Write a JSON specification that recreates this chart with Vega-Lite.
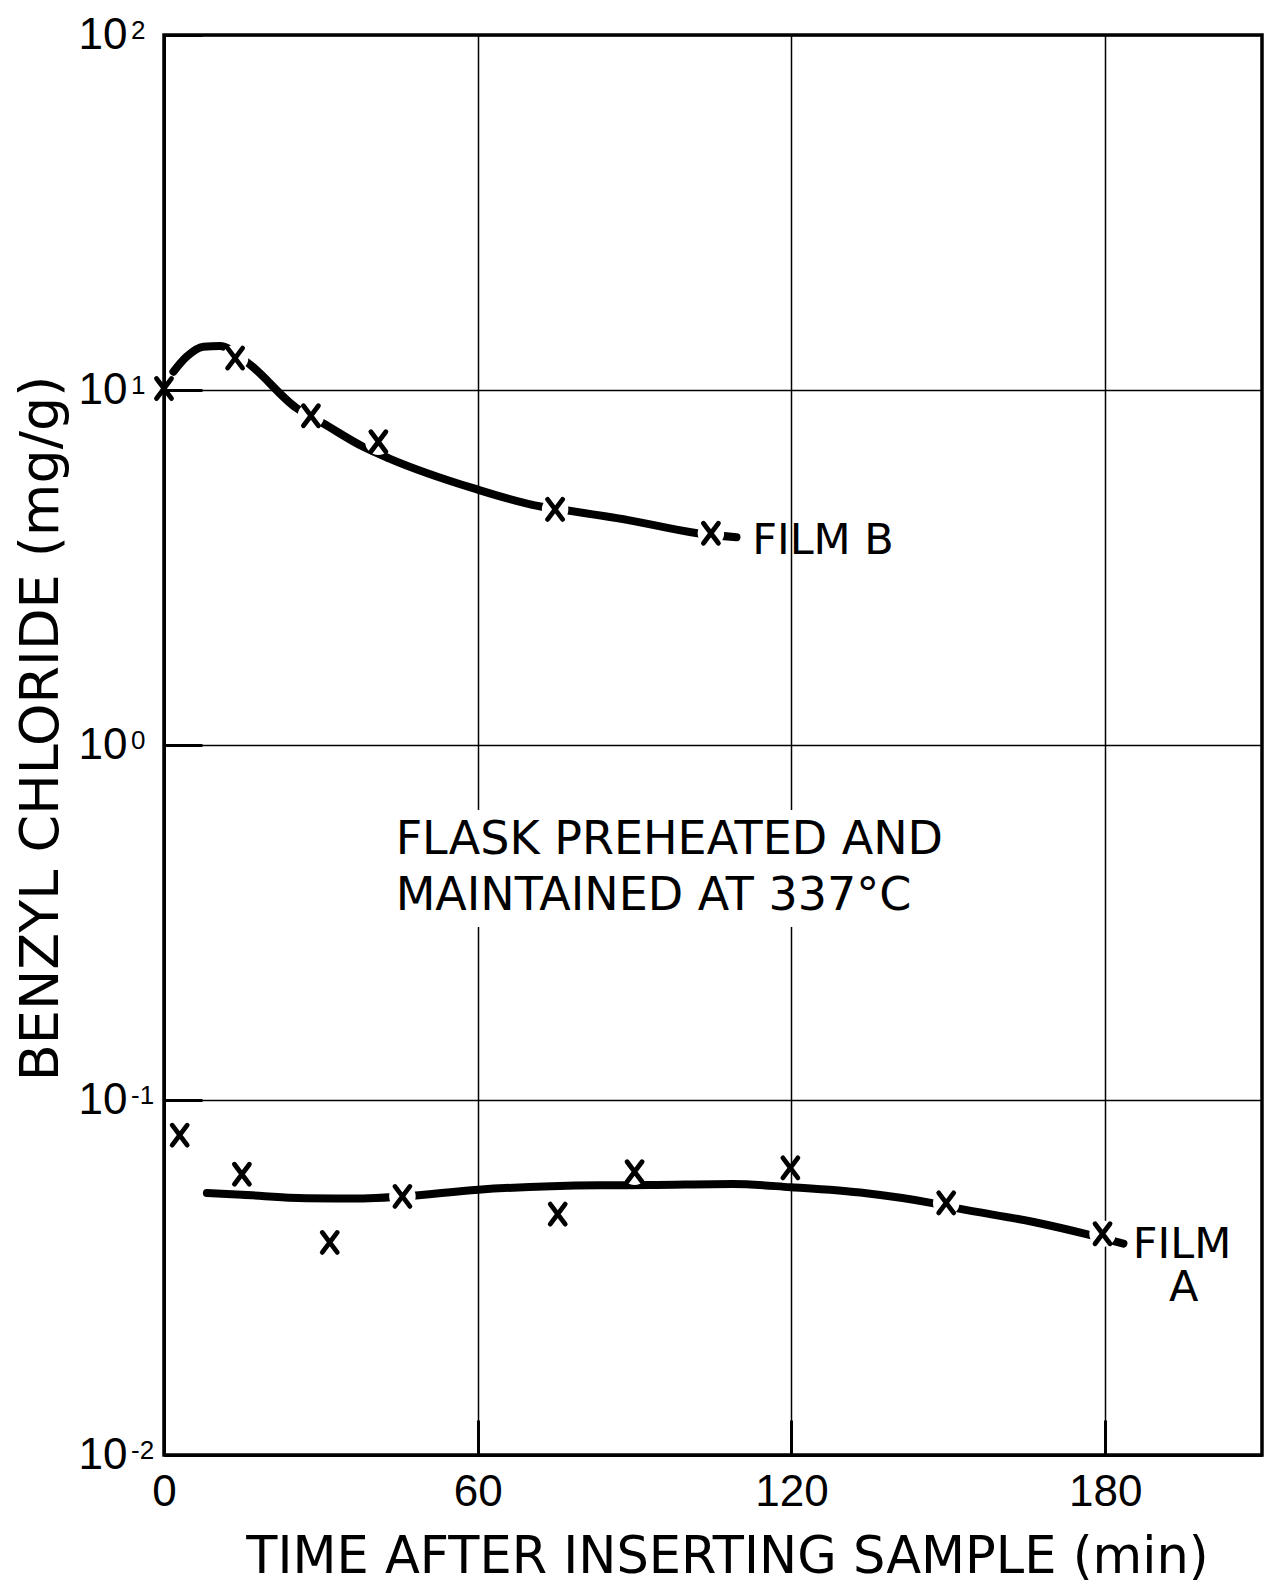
{
  "$schema": "https://vega.github.io/schema/vega-lite/v6.json",
  "width": 1098,
  "height": 1420,
  "autosize": {"type": "none"},
  "padding": {"left": 164, "top": 35, "right": 3, "bottom": 129},
  "background": "white",
  "view": {"stroke": "black", "strokeWidth": 3.5},
  "config": {"font": "DejaVu Sans"},
  "datasets": {
    "markers": [
      {"film": "B", "t": 0, "v": 10.1, "onCurve": false},
      {"film": "B", "t": 13.6, "v": 12.3, "onCurve": true},
      {"film": "B", "t": 28.1, "v": 8.46, "onCurve": true},
      {"film": "B", "t": 41.0, "v": 7.15, "onCurve": true},
      {"film": "B", "t": 74.8, "v": 4.61, "onCurve": true},
      {"film": "B", "t": 104.6, "v": 3.95, "onCurve": true},
      {"film": "A", "t": 3.0, "v": 0.0796, "onCurve": false},
      {"film": "A", "t": 14.9, "v": 0.0618, "onCurve": false},
      {"film": "A", "t": 31.7, "v": 0.0397, "onCurve": false},
      {"film": "A", "t": 45.6, "v": 0.0535, "onCurve": true},
      {"film": "A", "t": 75.3, "v": 0.0477, "onCurve": false},
      {"film": "A", "t": 90.0, "v": 0.0628, "onCurve": true},
      {"film": "A", "t": 119.8, "v": 0.0644, "onCurve": false},
      {"film": "A", "t": 149.6, "v": 0.0513, "onCurve": true},
      {"film": "A", "t": 179.5, "v": 0.042, "onCurve": true}
    ],
    "curves": [
      {"film": "B", "t": 1.8, "v": 11.26},
      {"film": "B", "t": 4.3, "v": 12.4},
      {"film": "B", "t": 7.5, "v": 13.24},
      {"film": "B", "t": 10.7, "v": 13.3},
      {"film": "B", "t": 15.8, "v": 12.0},
      {"film": "B", "t": 25.4, "v": 8.88},
      {"film": "B", "t": 30.4, "v": 8.06},
      {"film": "B", "t": 38.1, "v": 6.92},
      {"film": "B", "t": 43.0, "v": 6.42},
      {"film": "B", "t": 59.1, "v": 5.29},
      {"film": "B", "t": 72.3, "v": 4.69},
      {"film": "B", "t": 76.6, "v": 4.59},
      {"film": "B", "t": 88.8, "v": 4.3},
      {"film": "B", "t": 102.0, "v": 3.95},
      {"film": "B", "t": 109.5, "v": 3.85},
      {"film": "A", "t": 8.2, "v": 0.0547},
      {"film": "A", "t": 14.9, "v": 0.0541},
      {"film": "A", "t": 27.2, "v": 0.0529},
      {"film": "A", "t": 38.1, "v": 0.0528},
      {"film": "A", "t": 45.6, "v": 0.0535},
      {"film": "A", "t": 60.1, "v": 0.0559},
      {"film": "A", "t": 83.3, "v": 0.0575},
      {"film": "A", "t": 93.0, "v": 0.0576},
      {"film": "A", "t": 108.8, "v": 0.058},
      {"film": "A", "t": 119.8, "v": 0.0568},
      {"film": "A", "t": 134.3, "v": 0.0546},
      {"film": "A", "t": 146.4, "v": 0.0514},
      {"film": "A", "t": 151.8, "v": 0.0495},
      {"film": "A", "t": 166.1, "v": 0.0454},
      {"film": "A", "t": 177.0, "v": 0.0417},
      {"film": "A", "t": 183.5, "v": 0.0394}
    ],
    "labels": [
      {"kind": "series", "label": "FILM B", "t": 112.5, "v": 3.45},
      {"kind": "series", "label": "FILM", "t": 185.3, "v": 0.0359},
      {"kind": "series", "label": "A", "t": 192.2, "v": 0.0271},
      {"kind": "note", "label": "FLASK PREHEATED AND", "t": 44.3, "v": 0.4932},
      {"kind": "note", "label": "MAINTAINED AT 337°C", "t": 44.3, "v": 0.3429}
    ],
    "powers": [
      {"t": 0, "v": 100, "sup": "2"},
      {"t": 0, "v": 10, "sup": "1"},
      {"t": 0, "v": 1, "sup": "0"},
      {"t": 0, "v": 0.1, "sup": "-1"},
      {"t": 0, "v": 0.01, "sup": "-2"}
    ],
    "box": [
      {"t": 44, "t2": 148, "v": 0.307, "v2": 0.656}
    ]
  },
  "encoding": {
    "x": {
      "field": "t",
      "type": "quantitative",
      "scale": {"domain": [0, 210], "nice": false, "zero": false},
      "axis": {
        "values": [0, 60, 120, 180],
        "title": "TIME AFTER INSERTING SAMPLE (min)",
        "grid": true,
        "gridColor": "black",
        "gridWidth": 1.5,
        "gridOpacity": 1,
        "domain": true,
        "domainColor": "black",
        "domainWidth": 3,
        "ticks": true,
        "tickSize": -35,
        "tickWidth": 3,
        "tickColor": "black",
        "labelFont": "Liberation Sans",
        "labelFontSize": 44,
        "labelColor": "black",
        "labelPadding": 50,
        "labelFlush": false,
        "labelOverlap": false,
        "labelBound": false,
        "titleFont": "DejaVu Sans",
        "titleFontSize": 51,
        "titleFontWeight": "normal",
        "titleColor": "black",
        "titleX": 563,
        "titleY": 117,
        "titleAlign": "center",
        "titleBaseline": "alphabetic"
      }
    },
    "y": {
      "field": "v",
      "type": "quantitative",
      "scale": {"type": "log", "domain": [0.01, 100], "nice": false},
      "axis": {
        "values": [0.01, 0.1, 1, 10, 100],
        "labelExpr": "'10'",
        "title": "BENZYL CHLORIDE (mg/g)",
        "grid": true,
        "gridColor": "black",
        "gridWidth": 1.5,
        "gridOpacity": 1,
        "domain": true,
        "domainColor": "black",
        "domainWidth": 3,
        "ticks": true,
        "tickSize": -38,
        "tickWidth": 3,
        "tickColor": "black",
        "labelFont": "Liberation Sans",
        "labelFontSize": 44,
        "labelColor": "black",
        "labelPadding": 75,
        "labelFlush": false,
        "labelOverlap": false,
        "labelBound": false,
        "titleFont": "DejaVu Sans",
        "titleFontSize": 54,
        "titleFontWeight": "normal",
        "titleColor": "black",
        "titleAngle": 270,
        "titleX": -123,
        "titleY": 693,
        "titleAlign": "center",
        "titleBaseline": "middle"
      }
    }
  },
  "layer": [
    {
      "data": {"name": "box"},
      "mark": {"type": "rect", "fill": "white", "stroke": null},
      "encoding": {"x2": {"field": "t2"}, "y2": {"field": "v2"}}
    },
    {
      "data": {"name": "curves"},
      "mark": {"type": "line", "color": "black", "strokeWidth": 8, "strokeCap": "round", "strokeJoin": "round", "interpolate": "monotone"},
      "encoding": {"detail": {"field": "film"}}
    },
    {
      "data": {"name": "markers"},
      "transform": [{"filter": "datum.onCurve"}],
      "mark": {"type": "point", "shape": "circle", "filled": true, "fill": "white", "stroke": null, "size": 700, "opacity": 1}
    },
    {
      "data": {"name": "markers"},
      "mark": {"type": "point", "shape": "M-0.75,-1L0.75,1M-0.75,1L0.75,-1", "filled": false, "stroke": "black", "strokeWidth": 4.8, "strokeCap": "round", "size": 400, "opacity": 1}
    },
    {
      "data": {"name": "labels"},
      "transform": [{"filter": "datum.kind == 'series'"}],
      "mark": {"type": "text", "align": "left", "baseline": "alphabetic", "font": "DejaVu Sans", "fontSize": 43, "color": "black"},
      "encoding": {"text": {"field": "label", "type": "nominal"}}
    },
    {
      "data": {"name": "labels"},
      "transform": [{"filter": "datum.kind == 'note'"}],
      "mark": {"type": "text", "align": "left", "baseline": "alphabetic", "font": "DejaVu Sans", "fontSize": 46, "color": "black"},
      "encoding": {"text": {"field": "label", "type": "nominal"}}
    },
    {
      "data": {"name": "powers"},
      "mark": {"type": "text", "align": "left", "baseline": "top", "font": "Liberation Sans", "fontSize": 26, "fill": "black", "dx": -33, "dy": -17},
      "encoding": {"text": {"field": "sup", "type": "nominal"}}
    }
  ]
}
